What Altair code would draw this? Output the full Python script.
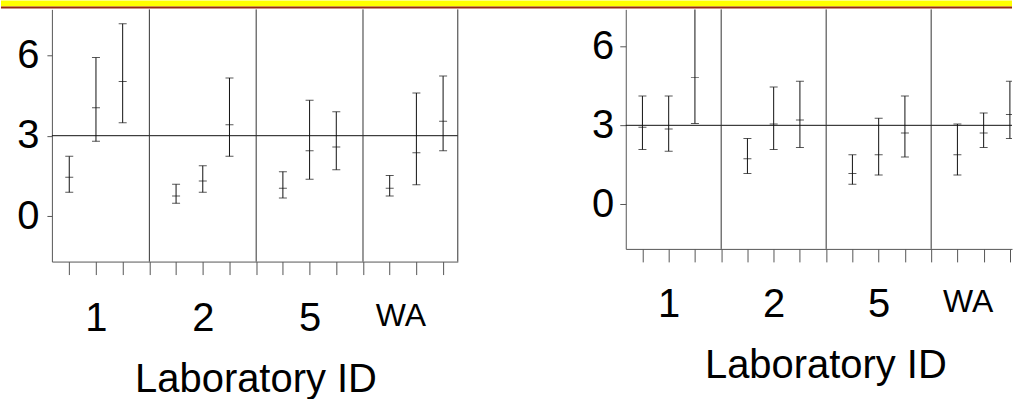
import altair as alt
import pandas as pd

# Laboratories along the x axis, three methods per laboratory
labs = ["1", "2", "5", "WA"]
methods = [1, 2, 3]

# Left panel: lower limit, estimate and upper limit (rows = labs, columns = methods)
left_lo = [[0.89, 2.79, 3.48], [0.48, 0.89, 2.23], [0.68, 1.38, 1.73], [0.75, 1.17, 2.44]]
left_mid = [[1.45, 4.04, 5.02], [0.75, 1.31, 3.41], [1.04, 2.44, 2.58], [1.04, 2.36, 3.54]]
left_hi = [[2.23, 5.91, 7.17], [1.19, 1.88, 5.15], [1.66, 4.32, 3.89], [1.52, 4.59, 5.22]]

# Right panel
right_lo = [[2.08, 2.02, 3.07], [1.17, 2.08, 2.16], [0.76, 1.11, 1.80], [1.11, 2.16, 2.50]]
right_mid = [[2.93, 2.86, 4.81], [1.73, 3.05, 3.20], [1.17, 1.88, 2.71], [1.88, 2.71, 3.41]]
right_hi = [[4.11, 4.11, 7.55], [2.50, 4.45, 4.67], [1.88, 3.27, 4.11], [3.05, 3.47, 4.67]]

reference_level = [3]
y_ticks = [0, 3, 6]

FONT = "Liberation Sans"
INK = "#111111"
FRAME = "#555555"

group = len(methods) + 1
slots = list(range(1, len(labs) * group))
dividers = [group * (i + 1) for i in range(len(labs) - 1)]
centres = [group * i + 2 for i in range(len(labs))]
label_expr = " : ".join(
    f"datum.value == {c} ? '{lab}'" for c, lab in zip(centres, labs)
) + " : ''"
wa_test = f"datum.value == {centres[-1]}"


def table(lo, mid, hi):
    rows = []
    for i, lab in enumerate(labs):
        for j, m in enumerate(methods):
            rows.append({"lab": lab, "method": m, "slot": group * i + m,
                         "lo": lo[i][j], "mid": mid[i][j], "hi": hi[i][j]})
    return pd.DataFrame(rows)


def panel(lo, mid, hi, width, height, x_domain, y_domain, y_extent, y_pad, y_tick,
          digit_pad, wa_pad, title_x, title_y, right_border):
    df = table(lo, mid, hi)
    x_scale = alt.Scale(domain=x_domain, nice=False, zero=False)
    y_scale = alt.Scale(domain=y_domain, nice=False, zero=False)

    x_axis = alt.Axis(
        values=slots, tickSize=13, tickColor=FRAME, tickWidth=1,
        domainColor=FRAME, domainWidth=1, grid=False,
        labelExpr=label_expr, labelFont=FONT, labelColor="black",
        labelFontSize={"condition": {"test": wa_test, "value": 32}, "value": 40},
        labelPadding={"condition": {"test": wa_test, "value": wa_pad}, "value": digit_pad},
        labelOffset={"condition": {"test": wa_test, "value": -16}, "value": 0},
        labelBaseline="alphabetic", labelFlush=False, labelOverlap=False,
        title="Laboratory ID", titleFont=FONT, titleFontSize=40,
        titleFontWeight="normal", titleColor="black", titleBaseline="alphabetic",
        titleAlign="center", titleX=title_x, titleY=title_y,
    )
    y_axis = alt.Axis(
        values=y_ticks, tickSize=y_tick, tickColor=FRAME, tickWidth=1,
        domainColor=FRAME, domainWidth=1, grid=False,
        labelFont=FONT, labelFontSize=40, labelColor="black", labelPadding=y_pad,
        labelFlush=False, labelOverlap=False, title=None,
        minExtent=y_extent, maxExtent=y_extent,
    )

    whiskers = alt.Chart(df).mark_rule(color=INK, strokeWidth=1, clip=True).encode(
        x=alt.X("slot:Q", scale=x_scale, axis=x_axis),
        y=alt.Y("lo:Q", scale=y_scale, axis=y_axis),
        y2="hi:Q",
    )
    caps = alt.Chart(df).transform_fold(
        ["lo", "mid", "hi"], as_=["limit", "value"]
    ).mark_tick(orient="horizontal", size=8, thickness=1, color=INK, clip=True).encode(
        x=alt.X("slot:Q", scale=x_scale, axis=x_axis),
        y=alt.Y("value:Q", scale=y_scale, axis=y_axis),
    )
    level = alt.Chart(pd.DataFrame({"level": reference_level})).mark_rule(
        color=INK, strokeWidth=1
    ).encode(y=alt.Y("level:Q", scale=y_scale, axis=y_axis))

    edges = dividers + ([x_domain[1]] if right_border else [])
    seps = alt.Chart(pd.DataFrame({"at": edges})).mark_rule(
        color="#333333", strokeWidth=1
    ).encode(x=alt.X("at:Q", scale=x_scale, axis=x_axis))

    return alt.layer(whiskers, caps, level, seps).properties(width=width, height=height)


left = panel(left_lo, left_mid, left_hi, 406.7, 252.7, [0.35, 15.55], [-1.69, 7.706],
             51, 8, 5, 56, 51, 204, 130, True)
right = panel(right_lo, right_mid, right_hi, 387, 240, [0.365, 15.08], [-1.69, 7.40],
              45, 6, 6, 55, 50, 200, 129.3, False)

# Yellow header band with its dark lower edge
band_data = pd.DataFrame({"band": [1]})
band = alt.layer(
    alt.Chart(band_data).mark_rect(color="#FFFF00").encode(
        x=alt.value(-51), x2=alt.value(962), y=alt.value(0), y2=alt.value(6)),
    alt.Chart(band_data).mark_rule(color="#9A2A10", strokeWidth=2).encode(
        x=alt.value(-51), x2=alt.value(962), y=alt.value(7)),
).properties(width=962, height=8)

chart = alt.vconcat(
    band,
    alt.hconcat(left, right, spacing=122),
    spacing=0,
).properties(
    padding={"left": 0, "top": 0, "right": 0, "bottom": 0},
    background="white",
).configure_view(strokeWidth=0)

chart.save("out.html", embed_options={"renderer": "svg", "actions": False})
